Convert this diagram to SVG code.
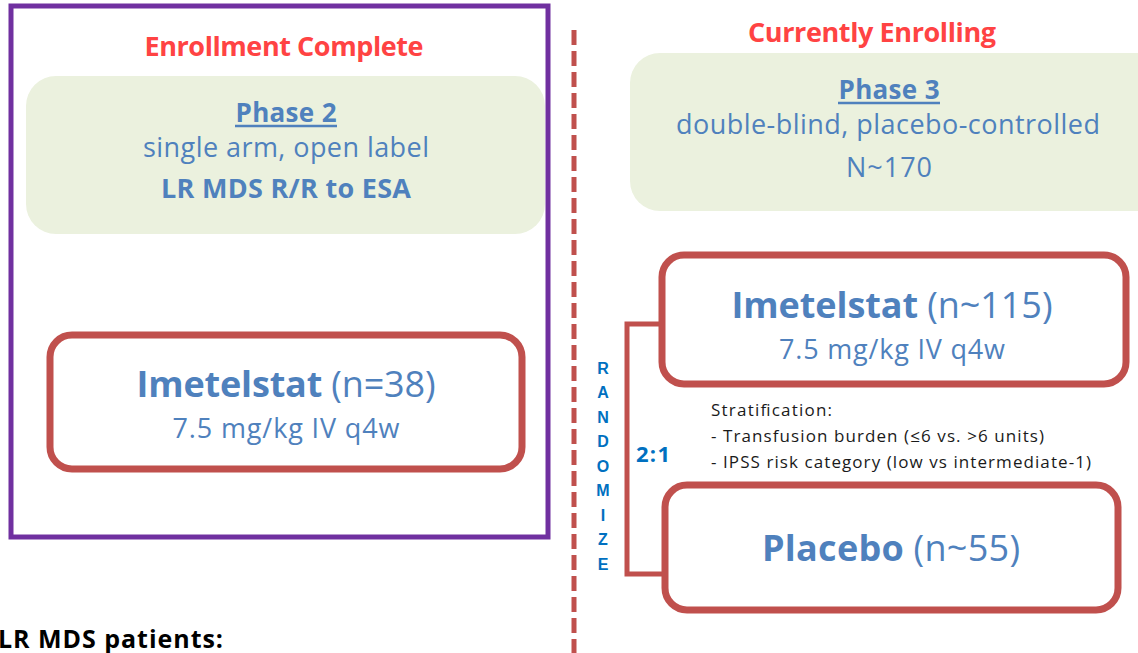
<svg xmlns="http://www.w3.org/2000/svg" width="1138" height="653" viewBox="0 0 1138 653">
  <style>
    .t { font-family: "Open Sans", Lato, sans-serif; fill: #4F81BD; text-anchor: middle; }
    .b { font-weight: bold; }
    .head { font-family: "Open Sans", Lato, sans-serif; font-weight: bold; fill: #FF4343; font-size: 27px; text-anchor: middle; }
    .phase { fill: #EBF1DE; }
    .arm { fill: #FFFFFF; stroke: #C0504D; stroke-width: 7; }
    .ul { stroke: #4F81BD; stroke-width: 2.5; }
    .rand { font-family: "Liberation Sans", Arial, sans-serif; font-weight: bold; font-size: 16px; fill: #0070C0; text-anchor: middle; }
    .strat { font-family: "Open Sans", Lato, sans-serif; font-size: 17px; fill: #1A1A1A; }
  </style>
  <rect width="1138" height="653" fill="#FFFFFF"/>

  <!-- Phase 2 study panel -->
  <g id="phase2-panel">
    <rect x="11" y="6" width="537" height="531" fill="none" stroke="#7030A0" stroke-width="5"/>
    <text class="head" x="284" y="56" textLength="279">Enrollment Complete</text>
  </g>
  <g id="phase2-info">
    <rect class="phase" x="26" y="76" width="519" height="158" rx="30"/>
    <text class="t b" x="286" y="122" font-size="26" textLength="101">Phase 2</text>
    <line class="ul" x1="235" y1="126" x2="337" y2="126"/>
    <text class="t" x="286" y="157" font-size="27" textLength="286">single arm, open label</text>
    <text class="t b" x="286" y="198" font-size="27" textLength="250">LR MDS R/R to ESA</text>
  </g>
  <g id="phase2-arm">
    <rect class="arm" x="50" y="335" width="472" height="134" rx="22"/>
    <text class="t" x="286" y="397" font-size="36" textLength="299"><tspan class="b">Imetelstat</tspan> (n=38)</text>
    <text class="t" x="286" y="438" font-size="27" textLength="227">7.5 mg/kg IV q4w</text>
  </g>

  <!-- Divider between studies -->
  <line x1="574" y1="30" x2="574" y2="653" stroke="#C0504D" stroke-width="5" stroke-dasharray="15 6"/>

  <!-- Phase 3 study -->
  <g id="phase3-header">
    <text class="head" x="872" y="42" textLength="248">Currently Enrolling</text>
  </g>
  <g id="phase3-info">
    <rect class="phase" x="630" y="53" width="540" height="158" rx="30"/>
    <text class="t b" x="889" y="99" font-size="26" textLength="101">Phase 3</text>
    <line class="ul" x1="838" y1="103" x2="940" y2="103"/>
    <text class="t" x="888" y="134" font-size="27" textLength="424">double-blind, placebo-controlled</text>
    <text class="t" x="889" y="177" font-size="27" textLength="86">N~170</text>
  </g>

  <!-- Randomization bracket -->
  <g id="connectors">
    <polyline points="662,324 627,324 627,574 665,574" fill="none" stroke="#C0504D" stroke-width="5"/>
  </g>

  <g id="randomize">
    <text class="rand" x="603" y="374">R</text>
    <text class="rand" x="603" y="398">A</text>
    <text class="rand" x="603" y="423">N</text>
    <text class="rand" x="603" y="447">D</text>
    <text class="rand" x="603" y="472">O</text>
    <text class="rand" x="603" y="496">M</text>
    <text class="rand" x="603" y="521">I</text>
    <text class="rand" x="603" y="545">Z</text>
    <text class="rand" x="603" y="570">E</text>
    <text x="653" y="462" font-family="'Open Sans', sans-serif" font-weight="bold" font-size="22" fill="#0070C0" text-anchor="middle" textLength="34">2:1</text>
  </g>

  <g id="arm-imetelstat">
    <rect class="arm" x="662" y="255" width="464" height="129" rx="22"/>
    <text class="t" x="892" y="318" font-size="36" textLength="321"><tspan class="b">Imetelstat</tspan> (n~115)</text>
    <text class="t" x="892" y="359" font-size="27" textLength="226">7.5 mg/kg IV q4w</text>
  </g>

  <g id="stratification">
    <text class="strat" x="711" y="416" textLength="121">Stratification:</text>
    <text class="strat" x="711" y="442" textLength="333">- Transfusion burden (≤6 vs. &gt;6 units)</text>
    <text class="strat" x="711" y="468" textLength="380">- IPSS risk category (low vs intermediate-1)</text>
  </g>

  <g id="arm-placebo">
    <rect class="arm" x="665" y="485" width="453" height="125" rx="22"/>
    <text class="t" x="891" y="561" font-size="36" textLength="258"><tspan class="b">Placebo</tspan> (n~55)</text>
  </g>

  <text x="-2" y="648" font-family="'Open Sans', sans-serif" font-weight="bold" font-size="25" fill="#000000" textLength="225">LR MDS patients:</text>
</svg>
